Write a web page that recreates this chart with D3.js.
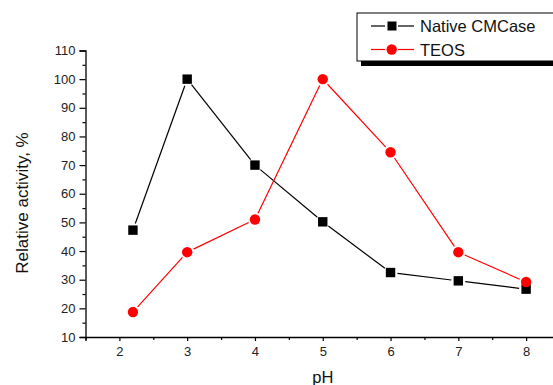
<!DOCTYPE html>
<html>
<head>
<meta charset="utf-8">
<script src="https://cdn.jsdelivr.net/npm/d3@7"></script>
<style>
  body { margin: 0; background: #fff; }
  svg { display: block; font-family: "Liberation Sans", Arial, sans-serif; }
</style>
</head>
<body>
<svg id="chart" width="553" height="385"></svg>
<script>
// pH values and relative activity (%)
const phNative = [2.2, 3, 4, 5, 6, 7, 8];
const native = [47.3, 100, 70, 50.2, 32.5, 29.6, 26.7];
const phTeos = [2.2, 3, 4, 5, 6, 7, 8];
const teos = [18.7, 39.6, 51, 100, 74.5, 39.6, 29.2];
const xTicks = [2, 3, 4, 5, 6, 7, 8];
const yTicks = [10, 20, 30, 40, 50, 60, 70, 80, 90, 100, 110];

const svg = d3.select("#chart");

// scales
const x = d3.scaleLinear().domain([1.5, 8.5]).range([85.5, 560]);
const y = d3.scaleLinear().domain([10, 110]).range([337, 50.5]);

// X axis
svg.append("g")
  .attr("transform", "translate(0," + y(10) + ")")
  .call(d3.axisBottom(x).tickValues(xTicks).tickSize(4).tickPadding(6).tickFormat(d3.format("d")));
svg.append("g")
  .attr("transform", "translate(0," + y(10) + ")")
  .call(d3.axisBottom(x).tickValues(d3.range(1.5, 8.6, 1)).tickSize(3).tickFormat(""))
  .select(".domain").remove();

// Y axis
svg.append("g")
  .attr("transform", "translate(" + x(1.5) + ",0)")
  .call(d3.axisLeft(y).tickValues(yTicks).tickSize(6).tickPadding(4));
svg.append("g")
  .attr("transform", "translate(" + x(1.5) + ",0)")
  .call(d3.axisLeft(y).tickValues(d3.range(15, 110, 10)).tickSize(3).tickFormat(""))
  .select(".domain").remove();

svg.selectAll(".domain").attr("stroke", "#000").attr("stroke-width", 1.3);
svg.selectAll(".tick line").attr("stroke", "#000").attr("stroke-width", 1.2);
svg.selectAll(".tick text").attr("font-size", 13).attr("fill", "#222")
  .style("font-family", "'Liberation Sans', Arial, sans-serif");

// axis titles
svg.append("text")
  .attr("x", x(5))
  .attr("y", 383)
  .attr("text-anchor", "middle")
  .attr("font-size", 16.5)
  .attr("fill", "#111")
  .text("pH");
svg.append("text")
  .attr("transform", "translate(28,203) rotate(-90)")
  .attr("text-anchor", "middle")
  .attr("font-size", 17)
  .attr("fill", "#111")
  .text("Relative activity, %");

// draw a series with small gaps between line segments and markers
function drawSeries(xs, ys, color, gap) {
  const pts = xs.map((d, i) => [x(d), y(ys[i])]);
  for (let i = 0; i < pts.length - 1; i++) {
    const [x1, y1] = pts[i], [x2, y2] = pts[i + 1];
    const len = Math.hypot(x2 - x1, y2 - y1);
    const ux = (x2 - x1) / len, uy = (y2 - y1) / len;
    if (len <= gap * 2) continue;
    svg.append("line")
      .attr("x1", x1 + ux * gap).attr("y1", y1 + uy * gap)
      .attr("x2", x2 - ux * gap).attr("y2", y2 - uy * gap)
      .attr("stroke", color).attr("stroke-width", 1.2);
  }
  return pts;
}

const nPts = drawSeries(phNative, native, "#000", 7);
const tPts = drawSeries(phTeos, teos, "#ff0000", 7);

svg.selectAll("rect.native")
  .data(nPts)
  .enter()
  .append("rect")
  .attr("class", "native")
  .attr("x", d => d[0] - 4.7)
  .attr("y", d => d[1] - 4.7)
  .attr("width", 9.4)
  .attr("height", 9.4)
  .attr("fill", "#000");

svg.selectAll("circle.teos")
  .data(tPts)
  .enter()
  .append("circle")
  .attr("class", "teos")
  .attr("cx", d => d[0])
  .attr("cy", d => d[1])
  .attr("r", 5.2)
  .attr("fill", "#ff0000");

// legend
const lg = svg.append("g");
lg.append("rect").attr("x", 361).attr("y", 17).attr("width", 200).attr("height", 49).attr("fill", "#000");
lg.append("rect").attr("x", 357).attr("y", 13).attr("width", 200).attr("height", 48)
  .attr("fill", "#fff").attr("stroke", "#000").attr("stroke-width", 1);

const legendItems = [
  { name: "Native CMCase", color: "#000", shape: "square", cy: 26 },
  { name: "TEOS", color: "#ff0000", shape: "circle", cy: 49.5 }
];
legendItems.forEach(it => {
  lg.append("line").attr("x1", 371).attr("x2", 385).attr("y1", it.cy).attr("y2", it.cy)
    .attr("stroke", it.color).attr("stroke-width", 1.2);
  lg.append("line").attr("x1", 398).attr("x2", 414).attr("y1", it.cy).attr("y2", it.cy)
    .attr("stroke", it.color).attr("stroke-width", 1.2);
  if (it.shape === "square") {
    lg.append("rect").attr("x", 387.5).attr("y", it.cy - 4.5).attr("width", 9).attr("height", 9).attr("fill", it.color);
  } else {
    lg.append("circle").attr("cx", 391.7).attr("cy", it.cy).attr("r", 5.2).attr("fill", it.color);
  }
  lg.append("text").attr("x", 420).attr("y", it.cy + 6).attr("font-size", 16.5).attr("fill", "#111").text(it.name);
});
</script>
</body>
</html>
